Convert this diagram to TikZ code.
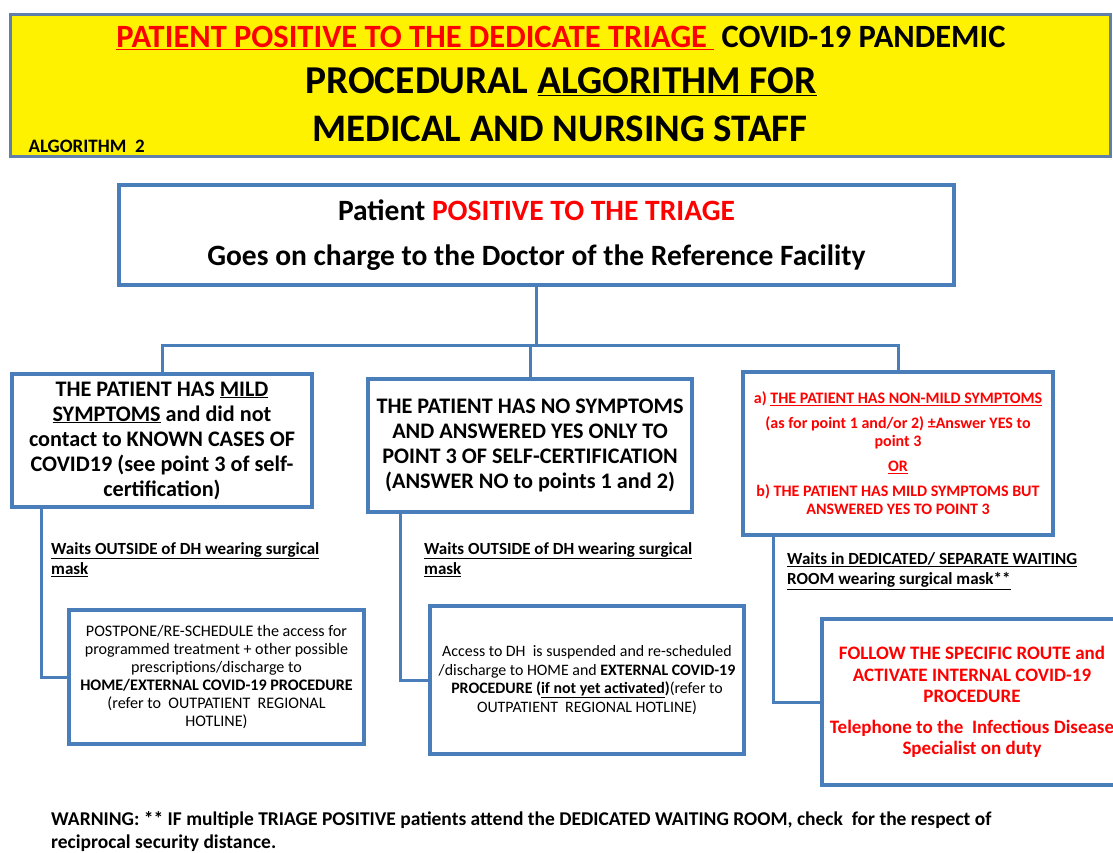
\documentclass[tikz,border=0pt]{standalone}
\usepackage{fontspec}
\setmainfont{Carlito}
\usetikzlibrary{shadows}

\definecolor{boxblue}{RGB}{74,126,187}
\definecolor{bannerblue}{RGB}{96,128,170}
\definecolor{alertred}{RGB}{255,0,0}

\tikzset{
  box/.style={draw=boxblue, line width=4pt, fill=white, align=center, anchor=north west,
    inner sep=2pt, drop shadow={shadow xshift=2pt, shadow yshift=-2pt, opacity=0.35}},
  link/.style={draw=boxblue, line width=3pt},
  waits/.style={anchor=north west, align=left, inner sep=0pt,
    font=\bfseries\fontsize{17}{20.5}\selectfont}
}

\begin{document}
\begin{tikzpicture}[x=1pt, y=-1pt]
  \useasboundingbox (0,0) rectangle (1113,853);

  % banner
  \draw[bannerblue, line width=3pt, fill=yellow] (10,15) rectangle (1110,157);
  \node[font=\bfseries\fontsize{32.5}{38}\selectfont] (title1) at (561,38)
    {\textcolor{alertred}{\underline{PATIENT POSITIVE TO THE DEDICATE TRIAGE }} COVID-19 PANDEMIC};
  \node[font=\bfseries\fontsize{39.5}{46}\selectfont] (title2) at (561,82)
    {PROCEDURAL \underline{ALGORITHM FOR}};
  \node[font=\bfseries\fontsize{39}{46}\selectfont] (title3) at (560,129)
    {MEDICAL AND NURSING STAFF};
  \node[font=\bfseries\fontsize{19}{22}\selectfont, anchor=west] (algo) at (25,146)
    {ALGORITHM\ \ 2};

  % patient box
  \node[box, minimum width=835pt, minimum height=100pt,
    font=\bfseries\fontsize{29.5}{45}\selectfont] (top) at (117,183)
    {Patient \textcolor{alertred}{POSITIVE TO THE TRIAGE}\\
     Goes on charge to the Doctor of the Reference Facility};

  % three cases
  \node[box, minimum width=300pt, minimum height=133pt,
    font=\bfseries\fontsize{22.2}{25}\selectfont] (mild) at (10,372)
    {THE PATIENT HAS \underline{MILD}\\
     \underline{SYMPTOMS} and did not\\
     contact to KNOWN CASES OF\\
     COVID19 (see point 3 of self-\\
     certification)};
  \node[box, minimum width=324pt, minimum height=133pt,
    font=\bfseries\fontsize{22.2}{25}\selectfont] (nosym) at (366,377)
    {THE PATIENT HAS NO SYMPTOMS\\
     AND ANSWERED YES ONLY TO\\
     POINT 3 OF SELF-CERTIFICATION\\
     (ANSWER NO to points 1 and 2)};
  \node[box, minimum width=310pt, minimum height=163pt,
    font=\bfseries\fontsize{16}{18}\selectfont, text=alertred] (severe) at (741,370)
    {a) \underline{THE PATIENT HAS NON-MILD SYMPTOMS}\\[7pt]
     (as for point 1 and/or 2) \textpm Answer YES to\\
     point 3\\[7pt]
     \underline{OR}\\[7pt]
     b) THE PATIENT HAS MILD SYMPTOMS BUT\\
     ANSWERED YES TO POINT 3};

  % waiting notes
  \node[waits] (waitA) at (51,542)
    {\underline{Waits OUTSIDE of DH wearing surgical}\\ \underline{mask}};
  \node[waits] (waitB) at (424,542)
    {\underline{Waits OUTSIDE of DH wearing surgical}\\ \underline{mask}};
  \node[waits] (waitC) at (787,552)
    {\underline{Waits in DEDICATED/ SEPARATE WAITING}\\ \underline{ROOM wearing surgical mask**}};

  % outcomes
  \node[box, minimum width=295pt, minimum height=134pt,
    font=\fontsize{16.1}{18}\selectfont] (postpone) at (67,608)
    {POSTPONE/RE-SCHEDULE the access for\\
     programmed treatment + other possible\\
     prescriptions/discharge to\\
     \textbf{HOME/EXTERNAL COVID-19 PROCEDURE}\\
     (refer to\ \ OUTPATIENT\ \ REGIONAL\\
     HOTLINE)};
  \node[box, minimum width=314pt, minimum height=148pt,
    font=\fontsize{15.9}{18.5}\selectfont] (suspend) at (428,604)
    {Access to DH\ \ is suspended and re-scheduled\\
     /discharge to HOME and \textbf{EXTERNAL COVID-19}\\
     \textbf{PROCEDURE (\underline{if not yet activated})}(refer to\\
     OUTPATIENT\ \ REGIONAL HOTLINE)};
  \node[box, minimum width=300pt, minimum height=166pt,
    font=\bfseries\fontsize{19}{21.5}\selectfont, text=alertred] (route) at (820,617)
    {FOLLOW THE SPECIFIC ROUTE and\\
     ACTIVATE INTERNAL COVID-19\\
     PROCEDURE\\[9pt]
     Telephone to the\ \ Infectious Disease\\
     Specialist on duty};

  % connectors
  \coordinate (bar) at (0,345);
  \draw[link] (top.south) -- (top.south |- bar);
  \draw[link] (mild.north) -- (mild.north |- bar) -- (severe.north |- bar) -- (severe.north);
  \draw[link] (nosym.north) -- (nosym.north |- bar);
  \draw[link] ([xshift=31pt]mild.south west) |- (postpone.west);
  \draw[link] ([xshift=34pt]nosym.south west) |- (suspend.west);
  \draw[link] ([xshift=32pt]severe.south west) |- (route.west);

  % warning
  \node[anchor=north west, align=left, inner sep=0pt,
    font=\bfseries\fontsize{19.5}{23}\selectfont] (warning) at (51,811)
    {WARNING: ** IF multiple TRIAGE POSITIVE patients attend the DEDICATED WAITING ROOM, check\ \ for the respect of\\
     reciprocal security distance.};
\end{tikzpicture}
\end{document}
